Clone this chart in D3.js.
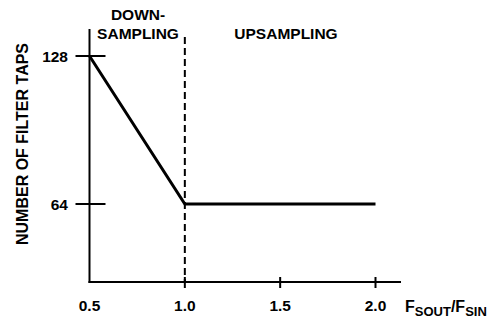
<!DOCTYPE html>
<html><head><meta charset="utf-8">
<script src="https://cdn.jsdelivr.net/npm/d3@7"></script>
<style>body{margin:0;background:#fff}svg{display:block}text{font-family:"Liberation Sans",Arial,sans-serif;font-weight:bold;fill:#000}</style>
</head><body>
<script>
const ratio = [0.5, 1.0, 2.0];
const taps = [128, 64, 64];
const xTicks = [0.5, 1.0, 1.5, 2.0];
const xTickLabels = ["0.5", "1.0", "1.5", "2.0"];
const yTicks = [128, 64];
const yTickLabels = ["128", "64"];
const boundary = 1.0;

const W = 489, H = 318;
const svg = d3.select("body").append("svg").attr("width", W).attr("height", H);
const x = d3.scaleLinear().domain([0.5, 2.0]).range([89.5, 375.5]);
const y = d3.scaleLinear().domain([64, 128]).range([204, 56]);
const yBottom = 282, yTop = 29, xRight = 401;
const fs = 15.5;

// axes lines
svg.append("line").attr("x1", x(0.5)).attr("x2", x(0.5)).attr("y1", yTop).attr("y2", yBottom + 1)
  .attr("stroke", "#000").attr("stroke-width", 2);
svg.append("line").attr("x1", x(0.5) - 1).attr("x2", xRight).attr("y1", yBottom).attr("y2", yBottom)
  .attr("stroke", "#000").attr("stroke-width", 2);

// y ticks
svg.selectAll(".yt").data(yTicks).enter().append("line")
  .attr("x1", x(0.5) - 14).attr("x2", x(0.5) + 16)
  .attr("y1", d => y(d)).attr("y2", d => y(d)).attr("stroke", "#000").attr("stroke-width", 2);
svg.selectAll(".ytl").data(yTicks).enter().append("text")
  .attr("x", 68).attr("y", d => y(d) + 5.5).attr("text-anchor", "end").attr("font-size", fs)
  .text((d, i) => yTickLabels[i]);

// x ticks
svg.selectAll(".xt").data(xTicks.slice(1)).enter().append("line")
  .attr("x1", d => x(d)).attr("x2", d => x(d)).attr("y1", yBottom - 5).attr("y2", yBottom + 6)
  .attr("stroke", "#000").attr("stroke-width", 2);
svg.selectAll(".xtl").data(xTicks).enter().append("text")
  .attr("x", d => x(d)).attr("y", 311).attr("text-anchor", "middle").attr("font-size", fs)
  .text((d, i) => xTickLabels[i]);

// dashed boundary
svg.append("line").attr("x1", x(boundary)).attr("x2", x(boundary)).attr("y1", 37).attr("y2", yBottom)
  .attr("stroke", "#000").attr("stroke-width", 2).attr("stroke-dasharray", "7,4");

// data line
const line = d3.line().x((d, i) => x(ratio[i])).y((d, i) => y(taps[i]));
svg.append("path").datum(taps).attr("d", line).attr("fill", "none")
  .attr("stroke", "#000").attr("stroke-width", 3).attr("stroke-linejoin", "miter");

// region labels
svg.append("text").attr("x", 138).attr("y", 20).attr("text-anchor", "middle").attr("font-size", fs).text("DOWN-");
svg.append("text").attr("x", 138).attr("y", 38.5).attr("text-anchor", "middle").attr("font-size", fs).text("SAMPLING");
svg.append("text").attr("x", 286).attr("y", 38.5).attr("text-anchor", "middle").attr("font-size", fs).text("UPSAMPLING");

// y title
svg.append("text").attr("transform", "translate(28,144) rotate(-90)").attr("text-anchor", "middle")
  .attr("font-size", 16).text("NUMBER OF FILTER TAPS");

// x title
const t = svg.append("text").attr("x", 405).attr("y", 311.5).attr("font-size", 16);
t.append("tspan").text("F");
t.append("tspan").attr("font-size", 13).attr("dy", 4).text("SOUT");
t.append("tspan").attr("dy", -4).text("/F");
t.append("tspan").attr("font-size", 13).attr("dy", 4).text("SIN");
</script>
</body></html>
